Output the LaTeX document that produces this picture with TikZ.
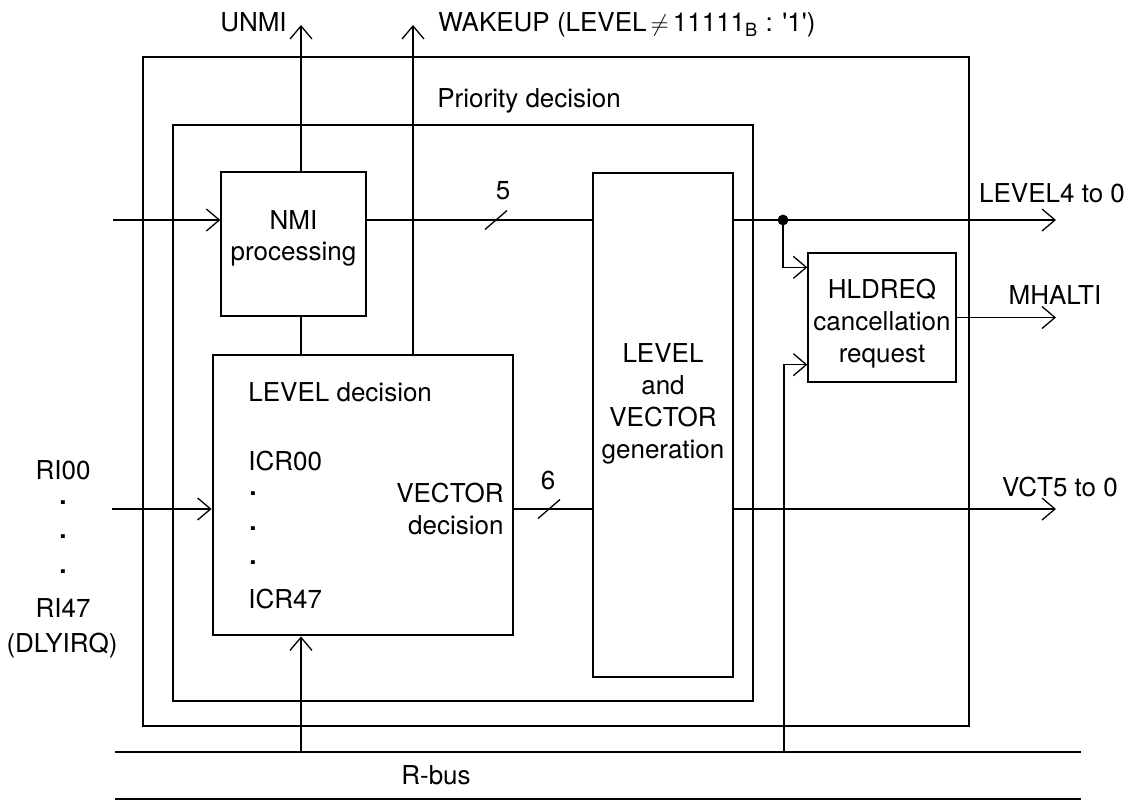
\documentclass[tikz,border=0pt]{standalone}
\usepackage{fontspec}
\setmainfont{TeX Gyre Heros}
\usetikzlibrary{arrows.meta,calc}
\tikzset{
  thin line/.style={line width=0.65pt, draw=black},
  thick line/.style={line width=1.4pt, draw=black},
  blockbox/.style={thin line, inner sep=0pt, rectangle},
  frame/.style={thick line, inner sep=0pt, rectangle},
  arr/.style={thin line, -{Straight Barb[length=6.5pt,width=11pt,line width=0.65pt]}},
  lbl/.style={inner sep=0pt, font=\fontsize{13pt}{16pt}\selectfont, text height=9.3pt, text depth=0pt},
  dotlbl/.style={inner sep=0pt, font=\fontsize{13pt}{16pt}\selectfont\bfseries},
}
\begin{document}
\begin{tikzpicture}[x=0.5pt,y=-0.5pt]
\useasboundingbox (0,0) rectangle (1136,800);
% blocks
\node[frame, minimum width=413pt, minimum height=334.5pt] (outer) at (556,391.5) {};
\node[blockbox, minimum width=290pt, minimum height=288pt] (prio) at (463,413) {};
\node[blockbox, minimum width=72.5pt, minimum height=72pt] (nmi) at (293.5,244) {};
\node[frame, minimum width=150pt, minimum height=140pt] (lev) at (363,495) {};
\node[blockbox, minimum width=70pt, minimum height=252pt] (gen) at (663,425) {};
\node[blockbox, minimum width=74pt, minimum height=64.5pt] (hld) at (882,317.5) {};
% coordinates
\coordinate (unmi) at (301,25);
\coordinate (wk) at (413,25);
\coordinate (nmiin) at (113,220);
\coordinate (lvout) at (1056,220);
\coordinate (jn) at (783,220);
\coordinate (mhout) at (1056,317.5);
\coordinate (riin) at (112,509);
\coordinate (vctout) at (1056,509);
\coordinate (rbL) at (115,752);
\coordinate (rbR) at (1081,752);
\coordinate (rbLb) at (115,799);
\coordinate (rbRb) at (1081,799);
\coordinate (rb2) at (784,752);
\coordinate (slashA) at (496,220);
\coordinate (slashB) at (549,509);
% connectors
\draw[arr] (nmi.north -| unmi) -- (unmi);
\draw[thin line] (nmi.south -| unmi) -- (lev.north -| unmi);
\draw[arr] (lev.north -| wk) -- (wk);
\draw[arr] (nmiin) -- (nmiin -| nmi.west);
\draw[thin line] (nmiin -| nmi.east) -- (nmiin -| gen.west);
\draw[arr] (nmiin -| gen.east) -- (lvout);
\fill (jn) circle (2.7pt);
\draw[arr] (jn) |- ($(hld.north west)+(0,15)$);
\draw[arr] (rb2) |- ($(hld.south west)+(0,-18)$);
\draw[arr] (hld.east) -- (mhout);
\draw[arr] (riin) -- (riin -| lev.west);
\draw[thin line] (riin -| lev.east) -- (riin -| gen.west);
\draw[arr] (riin -| gen.east) -- (vctout);
\draw[arr] (rbL -| unmi) -- (lev.south -| unmi);
\draw[thin line] (rbL) -- (rbR);
\draw[thin line] (rbLb) -- (rbRb);
\draw[thin line] (slashA) ++(-11,9.5) -- ++(22,-19);
\draw[thin line] (slashB) ++(-11,9.5) -- ++(22,-19);
% labels
\node[lbl] (tUNMI) at (253.5,22) {UNMI};
\node[lbl, anchor=west] (tWK) at (438,22) {WAKEUP (LEVEL$\,\neq\,$11111\textsubscript{B} : \textquotesingle 1\textquotesingle)};
\node[lbl, anchor=west] (tPrio) at (437,98) {Priority decision};
\node[lbl] (tNMI1) at (293.5,220) {NMI};
\node[lbl] (tNMI2) at (293.5,251) {processing};
\node[lbl] (tFive) at (503,190) {5};
\node[lbl] (tSix) at (548,480) {6};
\node[lbl, anchor=west] (tLev) at (248,392) {LEVEL decision};
\node[lbl, anchor=west] (tICR0) at (248,461) {ICR00};
\node[dotlbl] (d1) at (253,494) {.};
\node[dotlbl] (d2) at (253,529) {.};
\node[dotlbl] (d3) at (253,563) {.};
\node[lbl, anchor=west] (tICR47) at (248,599) {ICR47};
\node[lbl, anchor=east] (tVec1) at (504,493) {VECTOR};
\node[lbl, anchor=east] (tVec2) at (504,525) {decision};
\node[lbl] (tG1) at (663,353) {LEVEL};
\node[lbl] (tG2) at (663,385) {and};
\node[lbl] (tG3) at (663,417) {VECTOR};
\node[lbl] (tG4) at (663,449) {generation};
\node[lbl] (tH1) at (882,289) {HLDREQ};
\node[lbl] (tH2) at (882,321) {cancellation};
\node[lbl] (tH3) at (882,353) {request};
\node[lbl] (tLV) at (1052,193) {LEVEL4 to 0};
\node[lbl] (tMH) at (1055,295) {MHALTI};
\node[lbl] (tVCT) at (1060,487) {VCT5 to 0};
\node[lbl] (tRI0) at (63,470) {RI00};
\node[dotlbl] (e1) at (63,503) {.};
\node[dotlbl] (e2) at (63,537) {.};
\node[dotlbl] (e3) at (63,572) {.};
\node[lbl] (tRI47) at (63,608) {RI47};
\node[lbl] (tDLY) at (62,643) {(DLYIRQ)};
\node[lbl] (tRbus) at (436,775) {R-bus};
\end{tikzpicture}
\end{document}
